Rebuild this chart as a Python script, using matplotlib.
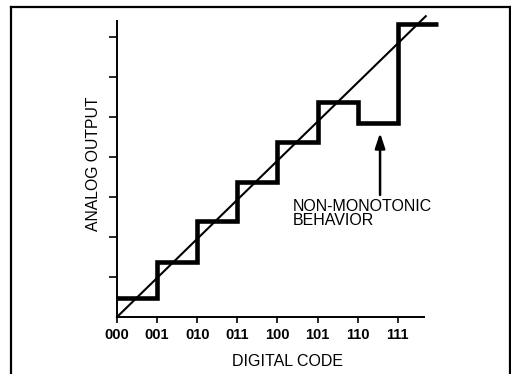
import matplotlib
matplotlib.use("Agg")
import matplotlib.pyplot as plt
from matplotlib.lines import Line2D

plt.rcParams['font.family'] = ['Liberation Sans', 'DejaVu Sans']

# Data
codes = ["000", "001", "010", "011", "100", "101", "110", "111"]
levels = [0.48, 1.38, 2.40, 3.38, 4.38, 5.38, 4.86, 7.33]
edges = [0, 1, 2, 3, 4, 5, 6, 7, 8]
ideal_x = [0.0, 7.7]
ideal_y = [0.0, 7.52]
arrow_x = 6.56
arrow_from = 3.05
arrow_to = 4.6

W, H = 511, 374
fig = plt.figure(figsize=(W / 100, H / 100), dpi=100)

ox, oy = 117, 317
ppu_x, ppu_y = 40.1, 40.0
xmax, ymax = 8.2, 7.7
ax = fig.add_axes([ox / W, (H - oy) / H, xmax * ppu_x / W, ymax * ppu_y / H])
ax.set_xlim(0, xmax)
ax.set_ylim(0, ymax)
for s in ax.spines.values():
    s.set_visible(False)
ax.patch.set_visible(False)

# axis lines
ax.plot([0, 7.68], [0, 0], color='k', lw=1.4, clip_on=False, solid_capstyle='butt')
ax.plot([0, 0], [0, 7.43], color='k', lw=1.4, clip_on=False, solid_capstyle='butt')

ax.set_xticks(range(len(codes)))
ax.set_xticklabels(codes, fontsize=10.5, fontweight='bold')
ax.set_yticks(range(1, 8))
ax.set_yticklabels([])
ax.tick_params(axis='x', direction='out', length=4, width=1.2, pad=4)
ax.tick_params(axis='y', direction='out', length=6, width=1.2)

# ideal line
ax.plot(ideal_x, ideal_y, color='k', lw=1.5, clip_on=False)

# staircase
st = ax.stairs(levels, edges, baseline=None, color='k', lw=3.3, clip_on=False)
st.set_joinstyle('miter')

# arrow
ax.annotate('', xy=(arrow_x, arrow_to), xytext=(arrow_x, arrow_from),
            arrowprops=dict(arrowstyle='-|>,head_length=0.9,head_width=0.3',
                            lw=1.8, color='k', shrinkA=0, shrinkB=0))
ax.text(4.39, 2.95, "NON-MONOTONIC\nBEHAVIOR", fontsize=11.5, ha='left', va='top',
        linespacing=0.95)

fig.text(287 / W, 1 - 362 / H, "DIGITAL CODE", fontsize=11.5, ha='center', va='center')
fig.text(93 / W, 1 - 164 / H, "ANALOG OUTPUT", fontsize=11.3, ha='center', va='center',
         rotation=90)

# frame
fig.add_artist(Line2D([11 / W, 11 / W], [0, 1 - 7 / H], color='k', lw=1.6))
fig.add_artist(Line2D([11 / W, 1], [1 - 7 / H, 1 - 7 / H], color='k', lw=1.6))
fig.add_artist(Line2D([509.5 / W, 509.5 / W], [0, 1 - 7 / H], color='k', lw=1.6))

fig.savefig("out.png", dpi=100)
